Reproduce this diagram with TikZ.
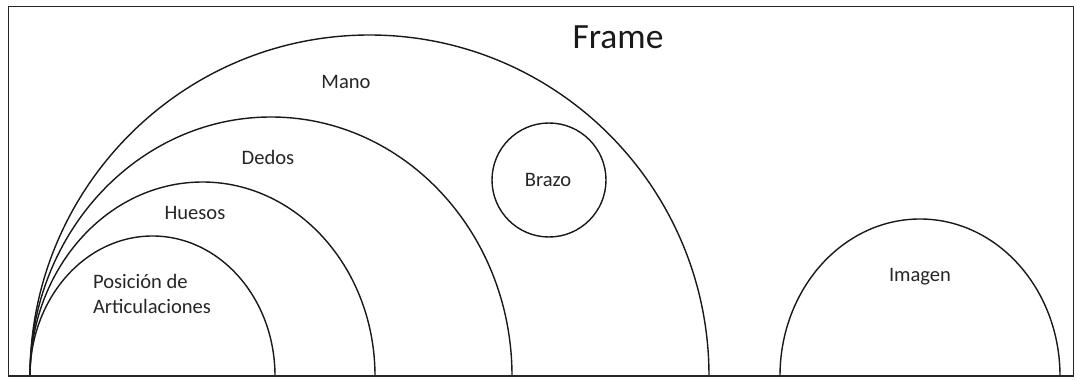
\documentclass[tikz,border=0pt]{standalone}
\usepackage{fontspec}
\setmainfont{Carlito}
\begin{document}
\begin{tikzpicture}[x=0.02cm,y=0.02cm,
  framebox/.style={draw=black!85,line width=1.1pt},
  ring/.style={draw=black!90,line width=0.8pt},
  lbl/.style={font=\fontsize{11.7}{14.2}\selectfont,text=black!85,inner sep=0pt,align=left},
  title/.style={font=\fontsize{20.2}{24}\selectfont,text=black!90,inner sep=0pt}]
\useasboundingbox (0,0) rectangle (1075,379);
% semicircles on the bottom edge
\draw[ring] (30,3) arc[start angle=180,end angle=0,x radius=339.5,y radius=341];
\draw[ring] (30,3) arc[start angle=180,end angle=0,x radius=241,y radius=259];
\draw[ring] (30,3) arc[start angle=180,end angle=0,x radius=172.5,y radius=194];
\draw[ring] (30,3) arc[start angle=180,end angle=0,x radius=122.5,y radius=140];
\draw[ring] (780,3) arc[start angle=180,end angle=0,x radius=140,y radius=157];
\draw[ring] (549,199) circle[radius=57];
% frame
\draw[framebox] (8.5,3) rectangle (1073.5,372.5);
% labels
\node[title] (frame) at (618,342) {Frame};
\node[lbl] (mano) at (346,297) {Mano};
\node[lbl] (dedos) at (268,222) {Dedos};
\node[lbl] (huesos) at (195,166) {Huesos};
\node[lbl] (pos) at (152,85) {Posición de\\Articulaciones};
\node[lbl] (brazo) at (548,199) {Brazo};
\node[lbl] (imagen) at (920,102) {Imagen};
\end{tikzpicture}
\end{document}
